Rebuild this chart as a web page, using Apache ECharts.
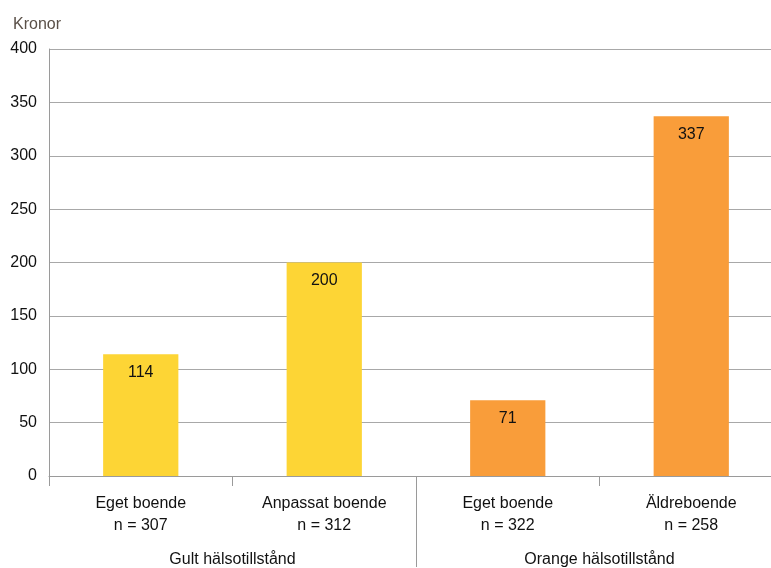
<!DOCTYPE html>
<html>
<head>
<meta charset="utf-8">
<script src="https://cdn.jsdelivr.net/npm/echarts@6/dist/echarts.min.js"></script>
<style>
  html, body { margin: 0; padding: 0; background: #fff; overflow: hidden; width: 771px; height: 568px; }
  /* the plot area runs a little past the right edge of the visible page */
  #chart { width: 800px; height: 568px; }
</style>
</head>
<body>
<div id="chart"></div>
<script>
// Kostnad per person (kronor) efter boendeform och hälsotillstånd
const categories = ['Eget boende', 'Anpassat boende', 'Eget boende', 'Äldreboende'];
const sampleSizes = ['n = 307', 'n = 312', 'n = 322', 'n = 258'];
const groups = ['Gult hälsotillstånd', 'Orange hälsotillstånd'];
const values = [114, 200, 71, 337];
const barColors = ['#FDD535', '#FDD535', '#F99D3A', '#F99D3A'];
const yTicks = { min: 0, max: 400, interval: 50 };

const font = 'Liberation Sans, Arial, sans-serif';
const textColor = '#111';
const chart = echarts.init(document.getElementById('chart'), null, { renderer: 'canvas' });

const option = {
  animation: false,
  textStyle: { fontFamily: font },
  title: {
    text: 'Kronor',
    left: 8, top: 12,
    textStyle: { fontFamily: font, fontSize: 16, fontWeight: 'normal', color: '#5a5048' }
  },
  grid: { left: 49, right: 17, top: 49, bottom: 91, containLabel: false },
  xAxis: [
    {
      type: 'category',
      data: categories.map((c, i) => c + '\n' + sampleSizes[i]),
      axisLine: { lineStyle: { color: '#9a9a9a', width: 1 } },
      axisTick: { show: true, length: 10, lineStyle: { color: '#9a9a9a' } },
      axisLabel: {
        color: textColor, fontSize: 16, fontFamily: font,
        lineHeight: 22, margin: 17, interval: 0
      }
    },
    {
      type: 'category',
      position: 'bottom',
      data: groups,
      axisLine: { show: false },
      axisTick: { show: false },
      axisLabel: { color: textColor, fontSize: 16, fontFamily: font, margin: 76, interval: 0 }
    }
  ],
  yAxis: {
    type: 'value',
    min: yTicks.min, max: yTicks.max, interval: yTicks.interval,
    axisLine: { show: true, lineStyle: { color: '#9a9a9a' } },
    axisTick: { show: false },
    axisLabel: { color: textColor, fontSize: 16, fontFamily: font, margin: 12 },
    splitLine: { lineStyle: { color: '#a8a8a8', width: 1 } }
  },
  series: [{
    type: 'bar',
    xAxisIndex: 0,
    barWidth: '41%',
    data: values.map((v, i) => ({ value: v, itemStyle: { color: barColors[i] } })),
    label: {
      show: true, position: 'insideTop', distance: 10,
      color: textColor, fontSize: 16, fontFamily: font
    }
  }]
};

chart.setOption(option);

// Divider between the two health-state groups, running from the axis down past the group labels
const mid = chart.convertToPixel({ xAxisIndex: 1 }, groups[0]);
const midNext = chart.convertToPixel({ xAxisIndex: 1 }, groups[1]);
const sepX = Math.round((mid + midNext) / 2) + 0.5;
const axisY = chart.convertToPixel({ yAxisIndex: 0 }, 0);
chart.setOption({
  graphic: [{
    type: 'line',
    shape: { x1: sepX, y1: axisY, x2: sepX, y2: 567 },
    style: { stroke: '#9a9a9a', lineWidth: 1 },
    silent: true
  }]
});
</script>
</body>
</html>
